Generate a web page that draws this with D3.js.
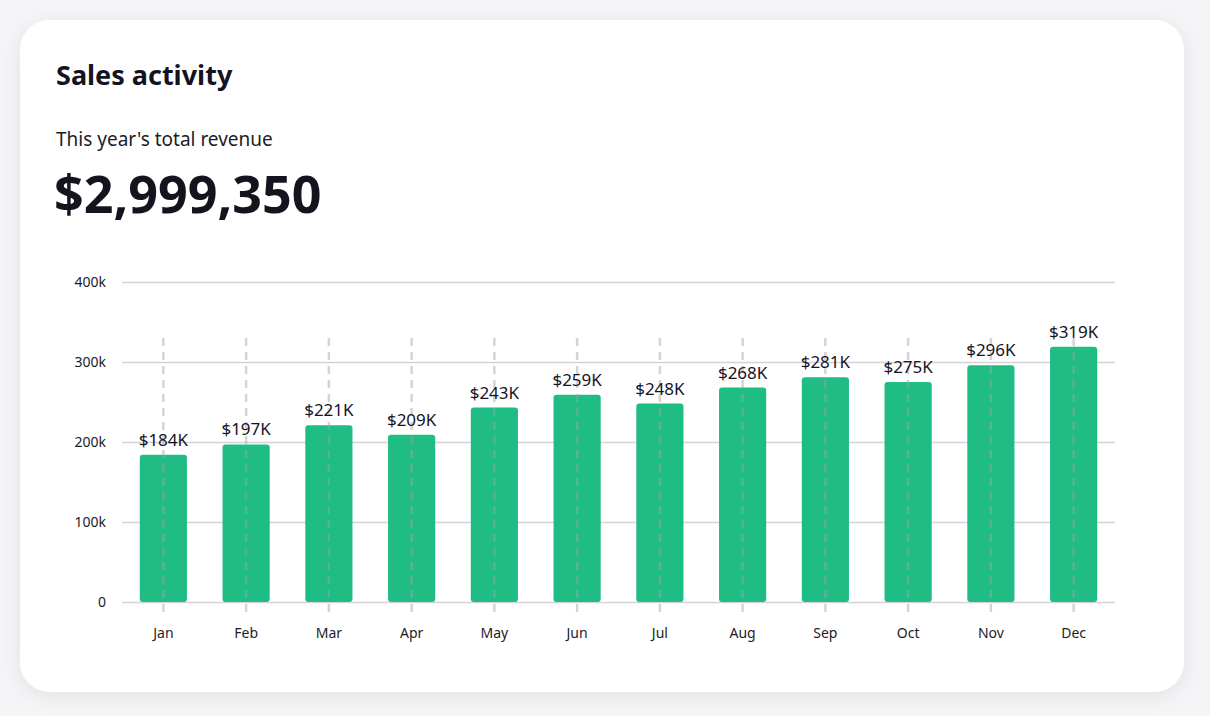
<!DOCTYPE html>
<html>
<head>
<meta charset="utf-8">
<script src="https://cdn.jsdelivr.net/npm/d3@7/dist/d3.min.js"></script>
<style>
  body { margin: 0; background: #f4f4f6; font-family: "Noto Sans", "Open Sans", sans-serif; }
  svg { display: block; }
</style>
</head>
<body>
<svg id="chart" width="1210" height="716"></svg>
<script>
var months = ["Jan", "Feb", "Mar", "Apr", "May", "Jun", "Jul", "Aug", "Sep", "Oct", "Nov", "Dec"];
var revenue = [184, 197, 221, 209, 243, 259, 248, 268, 281, 275, 296, 319];
var yTicks = [0, 100, 200, 300, 400];
var totalRevenue = "$2,999,350";

var svg = d3.select("#chart");

// card with soft shadow
var defs = svg.append("defs");
var f = defs.append("filter").attr("id", "shadow").attr("x", "-10%").attr("y", "-10%").attr("width", "120%").attr("height", "120%");
f.append("feDropShadow").attr("dx", 0).attr("dy", 4).attr("stdDeviation", 10).attr("flood-color", "#000").attr("flood-opacity", 0.08);

svg.append("rect").attr("width", 1210).attr("height", 716).attr("fill", "#f5f5f7");
svg.append("rect")
  .attr("x", 20).attr("y", 20).attr("width", 1164).attr("height", 672)
  .attr("rx", 30).attr("fill", "#fff").attr("filter", "url(#shadow)");

svg.append("text").attr("x", 56).attr("y", 85)
  .attr("font-size", 27).attr("font-weight", 700).attr("fill", "#14141f")
  .text("Sales activity");
svg.append("text").attr("x", 56).attr("y", 146)
  .attr("font-size", 19).attr("fill", "#1c1c28")
  .text("This year's total revenue");
svg.append("text").attr("x", 54).attr("y", 213)
  .attr("font-size", 52).attr("font-weight", 700).attr("fill", "#14141f")
  .text(totalRevenue);

var x = d3.scaleBand().domain(months).range([122, 1115]).paddingInner(0.43).paddingOuter(0.215);
var y = d3.scaleLinear().domain([0, 400]).range([602, 282]);

// horizontal gridlines
var grid = svg.append("g")
  .attr("transform", "translate(122,0)")
  .call(d3.axisLeft(y).tickValues(yTicks).tickSize(-993).tickFormat(""));
grid.select(".domain").remove();
grid.selectAll("line").attr("stroke", "#d4d4d8").attr("stroke-width", 1.5);

// y labels
svg.append("g").selectAll("text").data(yTicks).join("text")
  .attr("x", 106).attr("y", function(d) { return y(d) + 5; })
  .attr("text-anchor", "end").attr("font-size", 14).attr("fill", "#1c1c28")
  .text(function(d) { return d === 0 ? "0" : d + "k"; });

// bars
svg.append("g").selectAll("rect").data(revenue).join("rect")
  .attr("x", function(d, i) { return x(months[i]); })
  .attr("y", function(d) { return y(d); })
  .attr("width", x.bandwidth())
  .attr("height", function(d) { return y(0) - y(d); })
  .attr("rx", 3).attr("fill", "#1fbd84");

// dashed vertical lines
svg.append("g").selectAll("line").data(months).join("line")
  .attr("x1", function(d) { return x(d) + x.bandwidth() / 2; })
  .attr("x2", function(d) { return x(d) + x.bandwidth() / 2; })
  .attr("y1", y(330)).attr("y2", 612)
  .attr("stroke", "#a0a0a8").attr("stroke-opacity", 0.45)
  .attr("stroke-width", 2.5).attr("stroke-dasharray", "8,6");

// value labels
svg.append("g").selectAll("text").data(revenue).join("text")
  .attr("x", function(d, i) { return x(months[i]) + x.bandwidth() / 2; })
  .attr("y", function(d) { return y(d) - 9; })
  .attr("text-anchor", "middle").attr("font-size", 17).attr("fill", "#14141f")
  .text(function(d) { return "$" + d + "K"; });

// month labels
svg.append("g").selectAll("text").data(months).join("text")
  .attr("x", function(d) { return x(d) + x.bandwidth() / 2; })
  .attr("y", 638)
  .attr("text-anchor", "middle").attr("font-size", 14).attr("fill", "#1c1c28")
  .text(function(d) { return d; });
</script>
</body>
</html>
